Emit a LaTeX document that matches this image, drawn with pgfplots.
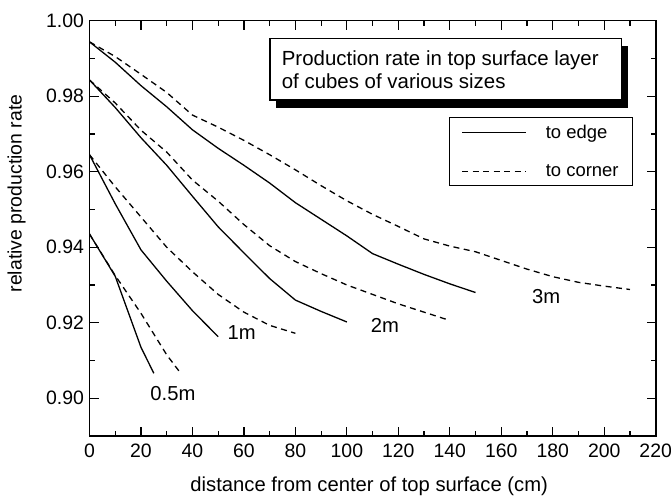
\documentclass[border=0pt]{standalone}
\usepackage{fontspec}
\setmainfont{Liberation Sans}
\usepackage{pgfplots}
\pgfplotsset{compat=1.18}
\newcommand{\ff}{\fontsize{19.5}{22}\selectfont}
\newcommand{\fx}{\fontsize{20.3}{23}\selectfont}
\newcommand{\fl}{\fontsize{18.5}{21}\selectfont}
\newcommand{\ft}{\fontsize{20.5}{23}\selectfont}

\begin{document}
\begin{tikzpicture}
\begin{axis}[
  scale only axis, width=566.2bp, height=415.3bp,
  xmin=0, xmax=220, ymin=0.89, ymax=1.00,
  xtick={0,20,40,60,80,100,120,140,160,180,200,220},
  ytick={0.90,0.92,0.94,0.96,0.98,1.00},
  minor x tick num=1, minor y tick num=1,
  major tick length=9bp, minor tick length=5bp,
  tick style={black, line width=1.2bp},
  axis line style={line width=1.6bp},
  /pgf/number format/assume math mode=true,
  tick label style={font=\ff},
  xticklabel style={yshift=-4bp},
  yticklabel style={xshift=-2bp, /pgf/number format/.cd, fixed, fixed zerofill, precision=2},
  scaled y ticks=false,
  xlabel={distance from center of top surface (cm)},
  ylabel={relative production rate},
  every axis x label/.style={at={(axis description cs:0.494,0)}, yshift=-50.7bp, anchor=center, font=\fx},
  every axis y label/.style={at={(axis description cs:0,0.584)}, xshift=-72.8bp, rotate=90, anchor=center, font=\ff},
  edge/.style={black, line width=1.3bp},
  corner/.style={black, line width=1.3bp, dash pattern=on 6bp off 4.5bp},
  legend image code/.code={\draw[#1] (0bp,0bp) -- (64bp,0bp);},
  legend style={at={(0.635,0.7674)}, anchor=north west, draw=black, line width=1bp,
    fill=white, font=\fl, inner xsep=12bp, inner ysep=5bp, row sep=21bp,
    /tikz/every odd column/.append style={column sep=17bp}},
  legend cell align=left,
]
% 3 m
\addplot[edge] coordinates {(0,0.9944) (10,0.9890) (20,0.9828) (30,0.9772) (40,0.9711) (50,0.9662) (60,0.9617) (70,0.9570) (80,0.9518) (90,0.9474) (100,0.9430) (110,0.9383) (120,0.9355) (130,0.9328) (140,0.9303) (150,0.9280)};
\addlegendentry{to edge}
\addplot[corner] coordinates {(0,0.9944) (10,0.9905) (20,0.9858) (30,0.9810) (40,0.9750) (50,0.9718) (60,0.9683) (70,0.9645) (80,0.9605) (90,0.9563) (100,0.9523) (110,0.9487) (120,0.9455) (130,0.9422) (140,0.9403) (150,0.9388) (160,0.9365) (170,0.9342) (180,0.9322) (190,0.9307) (200,0.9297) (210,0.9288)};
\addlegendentry{to corner}
% 2 m
\addplot[edge, forget plot] coordinates {(0,0.9843) (10,0.9770) (20,0.9690) (30,0.9617) (40,0.9535) (50,0.9454) (60,0.9385) (70,0.9317) (80,0.9260) (90,0.9230) (100,0.9202)};
\addplot[corner, forget plot] coordinates {(0,0.9843) (10,0.9782) (20,0.9710) (30,0.9652) (40,0.9578) (50,0.9522) (60,0.9460) (70,0.9404) (80,0.9362) (90,0.9330) (100,0.9300) (110,0.9275) (120,0.9250) (130,0.9228) (140,0.9206)};
% 1 m
\addplot[edge, forget plot] coordinates {(0,0.9645) (10,0.9515) (20,0.9393) (30,0.9310) (40,0.9232) (50,0.9163)};
\addplot[corner, forget plot] coordinates {(0,0.9645) (10,0.9560) (20,0.9480) (30,0.9400) (40,0.9335) (50,0.9275) (60,0.9228) (70,0.9193) (80,0.9172)};
% 0.5 m
\addplot[edge, forget plot] coordinates {(0,0.9435) (10,0.9323) (20,0.9135) (25,0.9066)};
\addplot[corner, forget plot] coordinates {(0,0.9435) (10,0.9325) (20,0.9225) (30,0.9115) (35,0.9070)};

\node[font=\fx] at (axis cs:32.4,0.9012) {0.5m};
\node[font=\fx] at (axis cs:59.1,0.9175) {1m};
\node[font=\fx] at (axis cs:114.8,0.9193) {2m};
\node[font=\fx] at (axis cs:177.4,0.9270) {3m};

% title box with shadow
\fill[black] ([xshift=6bp,yshift=-8bp]axis cs:70.1,0.99533) rectangle ([xshift=6bp,yshift=-8bp]axis cs:206.8,0.97897);
\draw[fill=white, line width=1.2bp] (axis cs:70.1,0.99533) rectangle (axis cs:206.8,0.97897);
\node[font=\ft, anchor=base west, inner sep=0pt] at (axis cs:74.67,0.98825) {Production rate in top surface layer};
\node[font=\ft, anchor=base west, inner sep=0pt] at (axis cs:74.67,0.98215) {of cubes of various sizes};

\coordinate (SW) at (rel axis cs:0,0);
\coordinate (NE) at (rel axis cs:1,1);
\end{axis}
\pgfresetboundingbox
\path[use as bounding box] ([shift={(-89.5bp,-61bp)}]SW) rectangle ([shift={(15.3bp,20.7bp)}]NE);
\end{tikzpicture}
\end{document}
